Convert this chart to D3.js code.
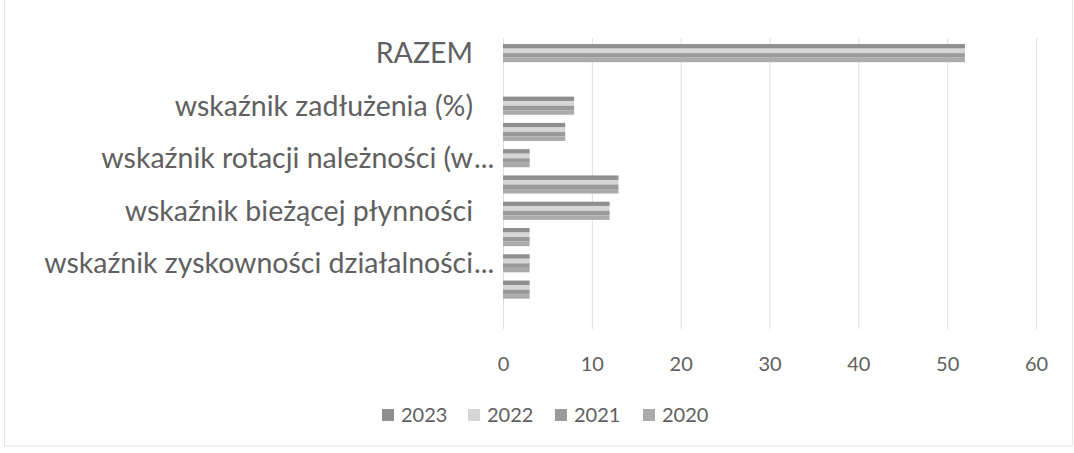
<!DOCTYPE html>
<html>
<head>
<meta charset="utf-8">
<script src="https://cdn.jsdelivr.net/npm/d3@7"></script>
<style>
	html, body { margin: 0; padding: 0; background: #fff; }
	svg { display: block; font-family: Lato, 'Open Sans', sans-serif; }
</style>
</head>
<body>
<div id="chart"></div>
<script>
// categories from bottom to top (Excel order); hidden labels left empty
const categories = [
	'',
	'',
	'wskaźnik zyskowności działalności',
	'',
	'wskaźnik bieżącej płynności',
	'',
	'wskaźnik rotacji należności (w',
	'',
	'wskaźnik zadłużenia (%)',
	'',
	'RAZEM',
]
const truncated = [false, false, true, false, false, false, true, false, false, false, false]

const seriesNames = ['2023', '2022', '2021', '2020']
const values2023 = [null, 3, 3, 3, 12, 13, 3, 7, 8, null, 52]
const values2022 = [null, 3, 3, 3, 12, 13, 3, 7, 8, null, 52]
const values2021 = [null, 3, 3, 3, 12, 13, 3, 7, 8, null, 52]
const values2020 = [null, 3, 3, 3, 12, 13, 3, 7, 8, null, 52]
const xTicks = [0, 10, 20, 30, 40, 50, 60]

class BarChart {
	constructor(params) {
		this.attrs = Object.assign(
			{
				container: 'body',
				width: 1074,
				height: 453,
				plot: { left: 503, right: 1036, top: 40, bottom: 329 },
				colors: ['#8f8f8f', '#d6d6d6', '#9a9a9a', '#ababab'],
				gridColor: '#dedede',
				textColor: '#606060',
			},
			params
		)
		this.main()
	}

	main() {
		const { attrs } = this

		this.svg = d3.select(attrs.container)
			.append('svg')
			.attr('width', attrs.width)
			.attr('height', attrs.height)

		// chart frame
		this.svg.append('rect')
			.attr('x', 4.5)
			.attr('y', -2)
			.attr('width', 1068)
			.attr('height', 448)
			.attr('fill', 'none')
			.attr('stroke', '#e6e6e6')

		this.x = d3.scaleLinear()
			.domain([0, 60])
			.range([attrs.plot.left, attrs.plot.right])

		// index 0 at bottom
		this.y = d3.scaleBand()
			.domain(d3.range(categories.length))
			.range([attrs.plot.bottom, attrs.plot.top])
			.paddingInner(0.31)
			.paddingOuter(0.155)

		this.ySub = d3.scaleBand()
			.domain(seriesNames)
			.range([0, this.y.bandwidth()])

		this.drawGrid()
		this.drawBars()
		this.drawLabels()
		this.drawLegend()
	}

	drawGrid() {
		const { attrs } = this

		const axis = d3.axisBottom(this.x)
			.tickValues(xTicks)
			.tickSize(-(attrs.plot.bottom - attrs.plot.top + 2))
			.tickPadding(28)

		const g = this.svg.append('g')
			.attr('transform', `translate(0,${attrs.plot.bottom})`)
			.call(axis)

		g.select('.domain').remove()
		g.selectAll('.tick line')
			.attr('stroke', attrs.gridColor)
			.attr('stroke-width', 1)
		g.selectAll('.tick text')
			.attr('fill', attrs.textColor)
			.attr('font-size', 20)
			.attr('font-family', 'Lato, sans-serif')
	}

	drawBars() {
		const { attrs } = this
		const allValues = [values2023, values2022, values2021, values2020]

		const rows = categories.map((c, i) => ({
			index: i,
			bars: seriesNames.map((s, k) => ({ series: s, k, value: allValues[k][i] }))
		}))

		const groups = this.svg.append('g')
			.selectAll('g')
			.data(rows)
			.join('g')
			.attr('transform', d => `translate(0,${this.y(d.index)})`)

		groups.selectAll('rect')
			.data(d => d.bars.filter(b => b.value != null))
			.join('rect')
			.attr('x', this.x(0))
			.attr('y', d => this.ySub(d.series))
			.attr('width', d => this.x(d.value) - this.x(0))
			.attr('height', this.ySub.bandwidth())
			.attr('fill', d => attrs.colors[d.k])
	}

	drawLabels() {
		const { attrs } = this
		const labelX = 473

		const labels = this.svg.append('g')
			.selectAll('g')
			.data(categories.map((c, i) => ({ label: c, index: i, truncated: truncated[i] })))
			.join('g')
			.attr('transform', d => `translate(${labelX},${this.y(d.index) + this.y.bandwidth() / 2})`)

		labels.append('text')
			.attr('text-anchor', 'end')
			.attr('dy', '0.35em')
			.attr('fill', attrs.textColor)
			.attr('font-size', 28.5)
			.text(d => d.label)

		labels.filter(d => d.truncated)
			.append('text')
			.attr('x', 1)
			.attr('dy', '0.35em')
			.attr('fill', attrs.textColor)
			.attr('font-size', 28.5)
			.text('...')
	}

	drawLegend() {
		const { attrs } = this
		const legendX = [382, 468, 555, 643]

		const items = this.svg.append('g')
			.selectAll('g')
			.data(seriesNames)
			.join('g')
			.attr('transform', (d, i) => `translate(${legendX[i]},415)`)

		items.append('rect')
			.attr('x', 0)
			.attr('y', -6)
			.attr('width', 12)
			.attr('height', 12)
			.attr('fill', (d, i) => attrs.colors[i])

		items.append('text')
			.attr('x', 19)
			.attr('dy', '0.35em')
			.attr('fill', attrs.textColor)
			.attr('font-size', 20)
			.text(d => d)
	}
}

new BarChart({ container: '#chart' })
</script>
</body>
</html>
